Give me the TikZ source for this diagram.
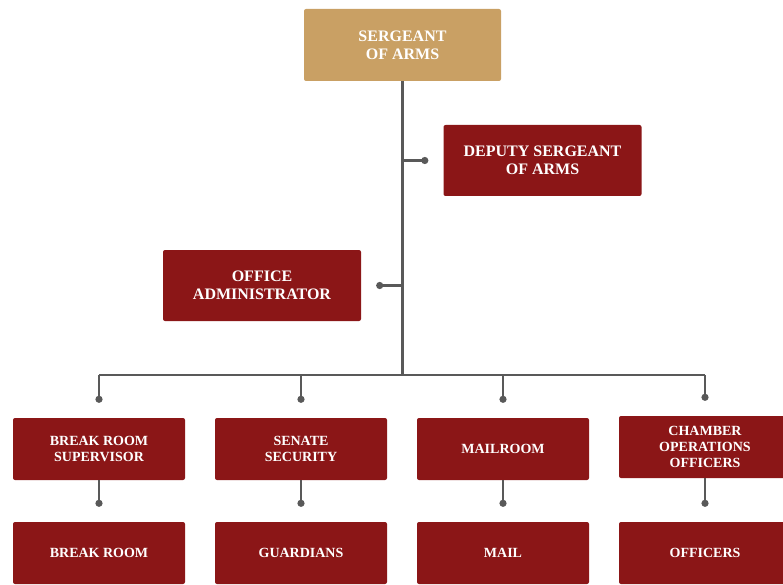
\documentclass[tikz,border=0pt]{standalone}
\usepackage{fontspec}
\setmainfont{Liberation Serif}
\usetikzlibrary{arrows.meta,positioning,calc}
\definecolor{senate}{HTML}{8B1617}
\definecolor{gold}{HTML}{C9A064}
\definecolor{wire}{HTML}{595959}

\begin{document}
\begin{tikzpicture}[
  x=1pt, y=-1pt,
  head/.style={fill=gold, rounded corners=2pt, align=center, text=white,
               minimum width=197pt, minimum height=72pt, inner sep=0pt,
               font=\fontsize{16}{18}\selectfont\bfseries},
  unit/.style={fill=senate, rounded corners=2pt, align=center, text=white,
               minimum width=198pt, minimum height=71pt, inner sep=0pt,
               font=\fontsize{16}{18}\selectfont\bfseries},
  desk/.style={fill=senate, rounded corners=2pt, align=center, text=white,
               minimum width=172pt, minimum height=62pt, inner sep=0pt,
               font=\fontsize{14}{16}\selectfont\bfseries},
  trunk/.style={draw=wire, line width=2.6pt},
  link/.style={draw=wire, line width=2.6pt, -{Circle[length=7pt]},
               shorten >=15pt},
]
\useasboundingbox (0,0) rectangle (783,585);

% ---- top of the office -----------------------------------------------------
\node[head] (sgt) at (402.5,45) {SERGEANT\\OF ARMS};
\node[unit] (deputy) at (542.5,160.5) {DEPUTY SERGEANT\\OF ARMS};
\node[unit] (admin) at (262,285.5) {OFFICE\\ADMINISTRATOR};
\coordinate (bus) at (402,375);

\draw[trunk] (sgt.south) -- (sgt.south |- bus);
\draw[link] (sgt.south |- deputy.west) -- (deputy.west);
\draw[link] (sgt.south |- admin.east) -- (admin.east);

% ---- supervisors -----------------------------------------------------------
\node[desk] (brksup) at (99,449) {BREAK ROOM\\SUPERVISOR};
\node[desk] (security) at (301,449) {SENATE\\SECURITY};
\node[desk] (mailrm) at (503,449) {MAILROOM};
\node[desk] (chamber) at (705,447) {CHAMBER\\OPERATIONS\\OFFICERS};

\draw[trunk] (brksup.north |- bus) -- (chamber.north |- bus);
\foreach \n in {brksup,security,mailrm,chamber}
  \draw[link] (\n.north |- bus) -- (\n.north);

% ---- staff -----------------------------------------------------------------
\node[desk] (brkroom) at (99,553) {BREAK ROOM};
\node[desk] (guardians) at (301,553) {GUARDIANS};
\node[desk] (mail) at (503,553) {MAIL};
\node[desk] (officers) at (705,553) {OFFICERS};

\draw[link] (brksup.south) -- (brkroom.north);
\draw[link] (security.south) -- (guardians.north);
\draw[link] (mailrm.south) -- (mail.north);
\draw[link] (chamber.south) -- (officers.north);

\end{tikzpicture}
\end{document}
